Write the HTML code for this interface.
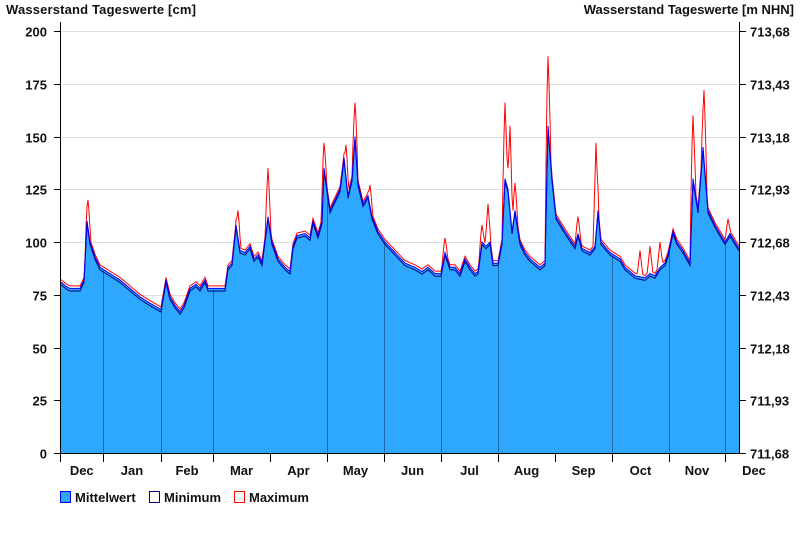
<!DOCTYPE html>
<html><head><meta charset="utf-8"><style>
body{margin:0;background:#fff;}
svg text{font-family:"Liberation Sans",Arial,sans-serif;font-weight:bold;font-size:13px;fill:#111;}
</style></head><body>
<svg id="s" width="800" height="550" xmlns="http://www.w3.org/2000/svg">
<text x="6" y="14" textLength="190">Wasserstand Tageswerte [cm]</text>
<text x="794" y="14" text-anchor="end">Wasserstand Tageswerte [m NHN]</text>
<g id="grid"></g>
<g id="data"></g>
<g id="axes"></g>
<g>
<rect x="60.5" y="491.5" width="10" height="11" fill="#2ea8ff" stroke="#0000ff"/>
<text x="75" y="502">Mittelwert</text>
<rect x="149.5" y="491.5" width="10" height="11" fill="#fff" stroke="#000080"/>
<text x="164" y="502">Minimum</text>
<rect x="234.5" y="491.5" width="10" height="11" fill="#fff" stroke="#ff0000"/>
<text x="249" y="502">Maximum</text>
</g>
</svg>
<script>
const NS="http://www.w3.org/2000/svg";
function el(p,t,a,txt){const e=document.createElementNS(NS,t);for(const k in a)e.setAttribute(k,a[k]);if(txt!=null)e.textContent=txt;p.appendChild(e);return e;}
const X0=61,X1=739,Y0=453,K=2.11;
const Y=v=>Y0-v*K;
const grid=document.getElementById('grid'),ax=document.getElementById('axes'),dg=document.getElementById('data');
const rl=["711,68","711,93","712,18","712,43","712,68","712,93","713,18","713,43","713,68"];
for(let i=0;i<=8;i++){const y=Math.round(Y(i*25))+0.5;
 if(i>0)el(grid,'line',{x1:X0,x2:X1,y1:y,y2:y,stroke:'#dddddd'});
 el(ax,'line',{x1:54,x2:61,y1:y,y2:y,stroke:'#000'});
 el(ax,'text',{x:47,y:y+5,'text-anchor':'end'},String(i*25));
 el(ax,'line',{x1:739,x2:746,y1:y,y2:y,stroke:'#000'});
 el(ax,'text',{x:750,y:y+5},rl[i]);}
const mk=[[61,81],[66,79],[70,78],[80,78],[84,82],[87,110],[90,100],[95,93],[100,88],[110,85],[120,82],[130,78],[140,74],[150,71],[161,68],[166,82],[170,74],[175,70],[180,67],[184,70],[190,78],[196,80],[200,78],[205,82],[208,78],[213,78],[225,78],[228,88],[232,90],[236,108],[240,96],[245,95],[250,98],[254,92],[258,94],[262,90],[268,112],[272,100],[278,92],[285,88],[290,86],[293,98],[297,103],[305,104],[310,102],[313,110],[318,103],[322,110],[324,135],[327,125],[330,115],[335,120],[340,125],[344,140],[348,122],[352,130],[355,150],[358,128],[363,118],[368,122],[372,112],[378,105],[385,100],[395,95],[405,90],[415,88],[422,86],[428,88],[435,85],[441,85],[445,95],[450,88],[455,88],[460,85],[465,92],[470,88],[475,85],[478,86],[482,100],[486,98],[490,100],[493,90],[498,90],[502,100],[505,130],[508,125],[512,105],[515,115],[520,100],[525,95],[530,92],[540,88],[545,90],[548,155],[552,130],[556,112],[565,105],[575,98],[578,104],[582,97],[590,95],[595,98],[598,115],[601,100],[610,95],[620,92],[625,88],[635,84],[645,83],[650,85],[655,84],[660,88],[665,90],[668,94],[673,105],[677,100],[683,96],[690,90],[693,130],[698,115],[703,145],[708,115],[715,108],[720,104],[725,100],[730,104],[735,100],[739,97]];
const sp=[[88,120],[238,115],[268,135],[324,147],[346,146],[355,166],[370,127],[445,102],[482,108],[488,118],[505,166],[510,155],[515,128],[548,188],[578,112],[596,147],[640,96],[650,98],[660,100],[693,160],[704,172],[728,111]];
function m(x){for(let i=0;i<mk.length-1;i++){const a=mk[i],b=mk[i+1];if(x>=a[0]&&x<=b[0])return a[1]+(b[1]-a[1])*(x-a[0])/(b[0]-a[0]);}return 97;}
let mean=[],mx=[],mn=[];
for(let x=X0;x<=X1;x++){const v=m(x);let t=v+1.2;for(const s of sp){const d=Math.abs(x-s[0]);if(d<3)t=Math.max(t,s[1]-(s[1]-v)*d/3);}
 mean.push([x,v]);mx.push([x,t]);mn.push([x,v-1.2]);}
const pts=a=>a.map(p=>p[0]+','+Y(p[1]).toFixed(1)).join(' ');
el(dg,'polygon',{points:X0+','+Y0+' '+pts(mean)+' '+X1+','+Y0,fill:'#2ea8ff'});
[103,161,213,327,384,441,498,612,669,725].forEach(x=>el(dg,'line',{x1:x+0.5,x2:x+0.5,y1:Y(m(x))+2,y2:Y0,stroke:'#1a6aa8','stroke-width':1}));
el(dg,'polyline',{points:pts(mn),fill:'none',stroke:'#000080','stroke-width':1});
el(dg,'polyline',{points:pts(mx),fill:'none',stroke:'#ff0000','stroke-width':1});
el(dg,'polyline',{points:pts(mean),fill:'none',stroke:'#0000ff','stroke-width':1});
el(ax,'line',{x1:60.5,x2:60.5,y1:22,y2:Y0,stroke:'#000'});
el(ax,'line',{x1:739.5,x2:739.5,y1:22,y2:Y0,stroke:'#000'});
el(ax,'line',{x1:54,x2:746,y1:Y0+0.5,y2:Y0+0.5,stroke:'#000'});
const tk=[60.5,103,161,213,270,327,384,441,498,555,612,669,725];
tk.forEach(x=>el(ax,'line',{x1:Math.floor(x)+0.5,x2:Math.floor(x)+0.5,y1:Y0,y2:Y0+9,stroke:'#000'}));
const ml=["Dec","Jan","Feb","Mar","Apr","May","Jun","Jul","Aug","Sep","Oct","Nov"];
ml.forEach((t,i)=>el(ax,'text',{x:(tk[i]+tk[i+1])/2,y:475,'text-anchor':'middle'},t));
el(ax,'text',{x:754,y:475,'text-anchor':'middle'},"Dec");
</script>
</body></html>
